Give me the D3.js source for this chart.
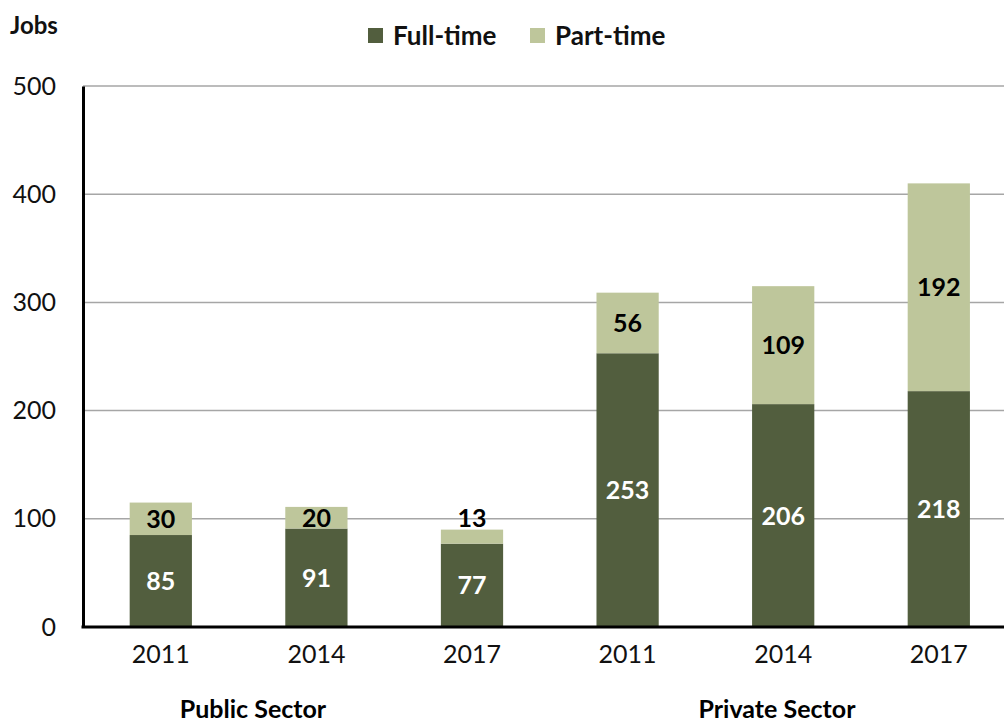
<!DOCTYPE html>
<html><head><meta charset="utf-8">
<script src="https://cdn.jsdelivr.net/npm/d3@7"></script>
<style>body{margin:0;background:#fff}svg{display:block}text{font-family:Lato,"Open Sans",sans-serif}</style>
</head><body><svg id="c" width="1004" height="722"></svg>
<script>
const sectors = ["Public Sector","Public Sector","Public Sector","Private Sector","Private Sector","Private Sector"];
const years = ["2011","2014","2017","2011","2014","2017"];
const fullTime = [85,91,77,253,206,218];
const partTime = [30,20,13,56,109,192];
const yTicks = [0,100,200,300,400,500];
const seriesNames = ["Full-time","Part-time"];
const colors = ["#525E3E","#BEC69B"];
const groupLabels = ["Public Sector","Private Sector"];

(function(){
const svg = d3.select("#c");
const W = 1004, H = 722;
const mLeft = 83, mBottom = 627, mTop = 86;
const keys = years.map((y,i)=>i);
const x = d3.scaleBand().domain(keys).range([mLeft, mLeft + 6*155.6]).paddingInner(0.6).paddingOuter(0.3);
const y = d3.scaleLinear().domain([0,500]).range([mBottom, mTop]);

svg.append("g").selectAll("line").data(yTicks.filter(d=>d>0)).join("line")
  .attr("x1", mLeft).attr("x2", W).attr("y1", d=>y(d)).attr("y2", d=>y(d))
  .attr("stroke","#a6a6a6").attr("stroke-width",1.5);

const rows = keys.map(i=>({i, full: fullTime[i], part: partTime[i]}));
const stack = d3.stack().keys(["full","part"])(rows);

const g = svg.append("g");
stack.forEach((s,si)=>{
  g.append("g").selectAll("rect").data(s).join("rect")
    .attr("x", d=>x(d.data.i)).attr("width", x.bandwidth())
    .attr("y", d=>y(d[1])).attr("height", d=>y(d[0])-y(d[1]))
    .attr("fill", colors[si]);
});
stack.forEach((s,si)=>{
  g.append("g").selectAll("text").data(s).join("text")
    .attr("x", d=>x(d.data.i)+x.bandwidth()/2)
    .attr("y", d=>{
      const h = y(d[0])-y(d[1]);
      return h < 18 ? y(d[1]) - 12 : y((d[0]+d[1])/2);
    })
    .attr("dy","0.36em").attr("text-anchor","middle")
    .attr("font-size",25).attr("font-weight","bold")
    .attr("fill", si===0 ? "#fff" : "#000")
    .text(d=>d[1]-d[0]);
});

const yAxis = d3.axisLeft(y).tickValues(yTicks).tickSize(0).tickPadding(27);
const ya = svg.append("g").attr("transform",`translate(${mLeft},0)`).call(yAxis);
ya.select(".domain").attr("stroke","#000").attr("stroke-width",3);
ya.selectAll("text").attr("font-size",25).attr("fill","#111").attr("font-family","Lato,sans-serif");

const xAxis = d3.axisBottom(x).tickFormat(i=>years[i]).tickSize(0).tickPadding(18);
const xa = svg.append("g").attr("transform",`translate(0,${mBottom})`).call(xAxis);
xa.select(".domain").remove();
xa.selectAll("text").attr("font-size",25).attr("fill","#111").attr("font-family","Lato,sans-serif");
svg.append("line").attr("x1",mLeft-1.5).attr("x2",W).attr("y1",mBottom).attr("y2",mBottom)
  .attr("stroke","#000").attr("stroke-width",3);

svg.selectAll("text.grp").data(groupLabels).join("text").attr("class","grp")
  .attr("x",(d,i)=> i===0 ? 253 : 777).attr("y",709).attr("dy","0.36em")
  .attr("text-anchor","middle").attr("font-size",25).attr("font-weight","bold").attr("fill","#000")
  .text(d=>d);

svg.append("text").attr("x",10).attr("y",25).attr("dy","0.36em").attr("font-size",24)
  .attr("font-weight","bold").attr("fill","#111").text("Jobs");

const legX = [368, 530];
const leg = svg.append("g");
seriesNames.forEach((n,i)=>{
  leg.append("rect").attr("x",legX[i]).attr("y",28).attr("width",15).attr("height",15).attr("fill",colors[i]);
  leg.append("text").attr("x",legX[i]+25).attr("y",36).attr("dy","0.36em").attr("font-size",26)
    .attr("font-weight","bold").attr("fill","#111").text(n);
});
})();
</script></body></html>
